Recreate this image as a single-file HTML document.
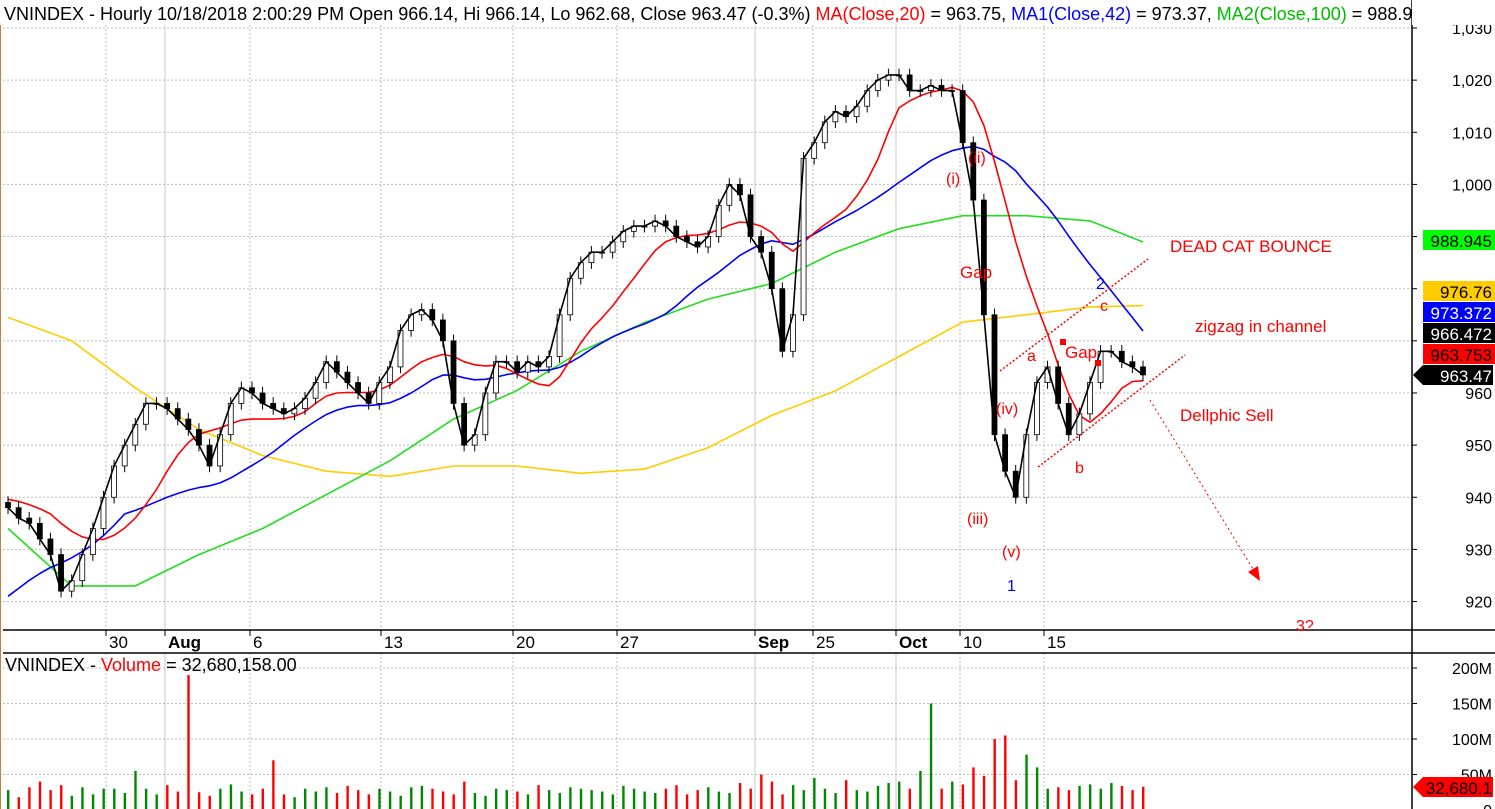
<!DOCTYPE html>
<html><head><meta charset="utf-8"><style>
html,body{margin:0;padding:0;background:#fff;}
svg{display:block;font-family:"Liberation Sans",Arial,sans-serif;}
</style></head><body>
<svg id="chart" width="1495" height="809" viewBox="0 0 1495 809" xmlns="http://www.w3.org/2000/svg">
<rect x="0" y="0" width="1495" height="809" fill="#fff"/>
<line x1="0.5" y1="0" x2="0.5" y2="809" stroke="#c08040"/>
<g id="grid"></g>
<g id="mas"></g>
<g id="candles"></g>
<g id="vol"></g>
<g id="axes"></g>
<g id="ann"></g>
<rect x="0" y="0" width="1411" height="25" fill="#fff"/>
<text x="4" y="20" font-size="18"><tspan fill="#000">VNINDEX - Hourly 10/18/2018 2:00:29 PM Open 966.14, Hi 966.14, Lo 962.68, Close 963.47 (-0.3%) </tspan><tspan fill="#ff0000">MA(Close,20)</tspan><tspan fill="#000"> = 963.75, </tspan><tspan fill="#0000ff">MA1(Close,42)</tspan><tspan fill="#000"> = 973.37, </tspan><tspan fill="#00bb00">MA2(Close,100)</tspan><tspan fill="#000"> = 988.945</tspan></text>
<rect x="1412" y="0" width="83" height="25" fill="#fff"/>
<text x="5" y="671" font-size="18"><tspan fill="#000">VNINDEX - </tspan><tspan fill="#ff0000">Volume</tspan><tspan fill="#000"> = 32,680,158.00</tspan></text>
</svg>
<script>
const priorCloses=[905,904,903,904,905,904,903,904,905,904,905,904,940,941,940,939,940,939,940,939,940];
const closes=[938,936,935,932,929,922,924,929,934,940,946,950,954,958,958,957,955,953,950,946,
952,958,961,960,958,957,956,957,959,962,966,964,962,960,958,962,965,972,975,976,
974,970,958,950,952,960,966,966,964,966,965,967,975,982,985,987,987,989,991,992,
992,993,992,990,989,988,990,996,1000,998,990,987,980,968,975,1005,1008,1012,1014,1013,
1015,1018,1020,1021,1021,1018,1018,1019,1018,1018,1008,997,975,952,945,940,952,962,965,958,
952,956,962,968,968,966,965,963.47];
const volumes=[28,18,32,40,28,35,20,32,22,30,30,24,55,30,22,35,26,190,25,20,
30,36,26,22,30,70,22,18,30,26,32,24,34,28,22,30,26,20,32,34,
30,26,22,40,24,20,30,28,26,22,35,28,24,32,30,28,26,22,34,30,
26,24,30,35,22,28,32,26,24,38,30,50,40,22,35,28,45,30,24,42,
28,26,34,38,40,30,55,150,30,40,36,60,48,100,105,42,78,60,30,32,
28,34,36,30,38,34,28,32.7];
const maIdx=[0,6,12,18,24,30,36,42,48,54,60,66,72,78,84,90,96,102,107];
const ma100=[934,923,923,929,934,940.5,947,955,960.5,968,973.5,978,981,987,991.5,994,994,993,988.95];
const ma200=[974.5,970,961,953,948,945,944,946,946,944.6,945.4,949.5,955.7,960.4,967,973.6,975,976.5,976.76];
const priceTicks=[1030,1020,1010,1000,990,980,970,960,950,940,930,920];
const priceTickLabels=["1,030","1,020","1,010","1,000","","","","960","950","940","930","920"];
const volTicks=[200,150,100,50,0];
const volTickLabels=["200M","150M","100M","50M","0"];
const dateLabels=["30","Aug","6","13","20","27","Sep","25","Oct","10","15"];
const dateX=[106,165,250,381,513,617,755,813,896,960,1044];
const dateMajor=[false,true,false,false,false,false,true,false,true,false,false];

const NS="http://www.w3.org/2000/svg";
const AX=1412;
function X(i){return 8+i*(1135/(closes.length-1));}
function Y(p){return 28+(1030-p)*5.214;}
function YV(v){return 810-v*0.71;}
function mk(tag,attrs,parent){const e=document.createElementNS(NS,tag);for(const k in attrs)e.setAttribute(k,attrs[k]);parent.appendChild(e);return e;}
const grid=document.getElementById('grid'),axes=document.getElementById('axes');
priceTicks.forEach((p,k)=>{
  const l=mk('line',{x1:3,x2:AX,y1:Y(p),y2:Y(p),stroke:'#bbb','stroke-dasharray':'2,2'},grid);
  
  
  mk('line',{x1:AX,x2:AX+5,y1:Y(p),y2:Y(p),stroke:'#000'},axes);
  if(priceTickLabels[k]){const t=mk('text',{x:1492,y:Y(p)+6,'text-anchor':'end','font-size':16,fill:'#000'},axes);t.textContent=priceTickLabels[k];
  
  }
});
volTicks.forEach((v,k)=>{
  if(v>0){const l=mk('line',{x1:3,x2:AX,y1:YV(v),y2:YV(v),stroke:'#bbb','stroke-dasharray':'2,2'},grid);
  
  }
  mk('line',{x1:AX,x2:AX+5,y1:YV(v),y2:YV(v),stroke:'#000'},axes);
  const t=mk('text',{x:1492,y:YV(v)+6,'text-anchor':'end','font-size':16,fill:'#000'},axes);t.textContent=volTickLabels[k];
  
  
});
dateX.forEach((x,k)=>{
  const st=dateMajor[k]?{stroke:'#c8c8c8'}:{stroke:'#bbb','stroke-dasharray':'2,2'};
  mk('line',Object.assign({x1:x,x2:x,y1:25,y2:630},st),grid);
  mk('line',Object.assign({x1:x,x2:x,y1:653,y2:809},st),grid);
  mk('line',{x1:x,x2:x,y1:630,y2:636,stroke:'#000'},axes);
  const t=mk('text',{x:x+3,y:648,'font-size':17,'font-weight':dateMajor[k]?'bold':'normal',fill:'#000'},axes);t.textContent=dateLabels[k];
  
  
});
mk('line',{x1:3,x2:1495,y1:630,y2:630,stroke:'#000','stroke-width':1.5},axes);
mk('line',{x1:3,x2:1495,y1:653,y2:653,stroke:'#000','stroke-width':1.5},axes);
mk('line',{x1:AX,x2:AX,y1:0,y2:809,stroke:'#000','stroke-width':1.5},axes);

const mas=document.getElementById('mas');
function maLine(arr,color,name){
  const pts=maIdx.map((i,k)=>X(i).toFixed(1)+','+Y(arr[k]).toFixed(1)).join(' ');
  const pl=mk('polyline',{points:pts,fill:'none',stroke:color,'stroke-width':1.6,'stroke-linejoin':'round'},mas);
  
  
}
function smaLine(n,color,name){
  const all=priorCloses.concat(closes),off=priorCloses.length;
  const pts=closes.map((c,i)=>{let s=0;for(let j=0;j<n;j++)s+=all[off+i-j];return X(i).toFixed(1)+','+Y(s/n).toFixed(1);}).join(' ');
  const pl=mk('polyline',{points:pts,fill:'none',stroke:color,'stroke-width':1.6,'stroke-linejoin':'round'},mas);
  
  
}
maLine(ma200,'#ffcc00','ma200-line');
maLine(ma100,'#22dd22','ma100-line');
smaLine(21,'#0000ff','ma42-line');
smaLine(10,'#ff0000','ma20-line');
const cg=document.getElementById('candles');
closes.forEach((c,i)=>{
  const o=i>0?closes[i-1]:c+1;
  const x=X(i),hi=Math.max(o,c)+1.2,lo=Math.min(o,c)-1.2;
  mk('line',{x1:x,x2:x,y1:Y(hi),y2:Y(lo),stroke:'#000'},cg);
  const up=c>=o;
  const r=mk('rect',{x:x-2.5,y:Y(Math.max(o,c)),width:5,height:Math.max(1,Math.abs(Y(o)-Y(c))),fill:up?'#fff':'#000',stroke:'#000','stroke-width':0.8},cg);
  
  
});
const cl=mk('polyline',{points:closes.map((c,i)=>X(i).toFixed(1)+','+Y(c).toFixed(1)).join(' '),fill:'none',stroke:'#000','stroke-width':1.6},cg);


const vg=document.getElementById('vol');
volumes.forEach((v,i)=>{
  const up=i===0||closes[i]>=closes[i-1];
  const r=mk('rect',{x:X(i)-1,y:YV(v),width:2.4,height:810-YV(v),fill:up?'#008800':'#ff0000'},vg);
  
  
});
function box(val,y,bg,fg,name,arrow){
  const g=mk('g',{},axes);
  
  
  if(arrow) mk('polygon',{points:`${AX+1},${y} ${AX+11},${y-10} 1493,${y-10} 1493,${y+10} ${AX+11},${y+10}`,fill:bg},g);
  else mk('rect',{x:1423,y:y-10,width:72,height:20,fill:bg},g);
  const t=mk('text',{x:1492,y:y+7,'text-anchor':'end','font-size':17,fill:fg},g);t.textContent=val;
}
box('988.945',240,'#00ff00','#000','ma100-value-box');
box('976.76',291,'#ffcc00','#000','ma200-value-box');
box('973.372',312,'#0000ff','#fff','ma42-value-box');
box('966.472',333,'#000','#fff','black-line-value-box');
box('963.753',354,'#ff0000','#000','ma20-value-box');
box('963.47',375,'#000','#fff','close-value-box',true);
box('32,680.1',787,'#ff0000','#000','volume-value-box',true);

const an=document.getElementById('ann');
function txt(s,x,y,c,sz,name){const t=mk('text',{x:x,y:y,fill:c,'font-size':sz||16},an);t.textContent=s;
  
  }
txt('DEAD CAT BOUNCE',1170,252,'#ff0000',17,'dead-cat-bounce-label');
txt('zigzag in channel',1195,332,'#ff0000',17,'zigzag-label');
txt('Dellphic Sell',1180,421,'#ff0000',17,'delphic-sell-label');
txt('3?',1296,631,'#ff0000',16,'wave-3-label');
txt('Gap',960,278,'#ff0000',17,'gap-label-1');
txt('Gap',1065,358,'#ff0000',17,'gap-label-2');
txt('(i)',946,184,'#ff0000',16,'wave-i-label');
txt('(ii)',968,163,'#ff0000',16,'wave-ii-label');
txt('(iii)',967,524,'#ff0000',16,'wave-iii-label');
txt('(iv)',996,414,'#ff0000',16,'wave-iv-label');
txt('(v)',1002,557,'#ff0000',16,'wave-v-label');
txt('a',1027,361,'#ff0000',16,'wave-a-label');
txt('b',1075,473,'#ff0000',16,'wave-b-label');
txt('c',1100,311,'#ff0000',16,'wave-c-label');
txt('2',1096,289,'#0000ff',16,'wave-2-label');
txt('1',1007,591,'#0000ff',16,'wave-1-label');
mk('line',{x1:1000,y1:371,x2:1148,y2:259,stroke:'#ff0000','stroke-width':1.5,'stroke-dasharray':'2,2'},an);
mk('line',{x1:1038,y1:467,x2:1185,y2:355,stroke:'#ff0000','stroke-width':1.5,'stroke-dasharray':'2,2'},an);
mk('line',{x1:1150,y1:400,x2:1256,y2:574,stroke:'#ff0000','stroke-width':1,'stroke-dasharray':'2,3'},an);
mk('polygon',{points:'1260,581 1248,572 1258,566',fill:'#ff0000'},an);
mk('rect',{x:1060,y:339,width:6,height:6,fill:'#ff0000'},an);
mk('rect',{x:1095,y:360,width:6,height:6,fill:'#ff0000'},an);
</script>
</body></html>
